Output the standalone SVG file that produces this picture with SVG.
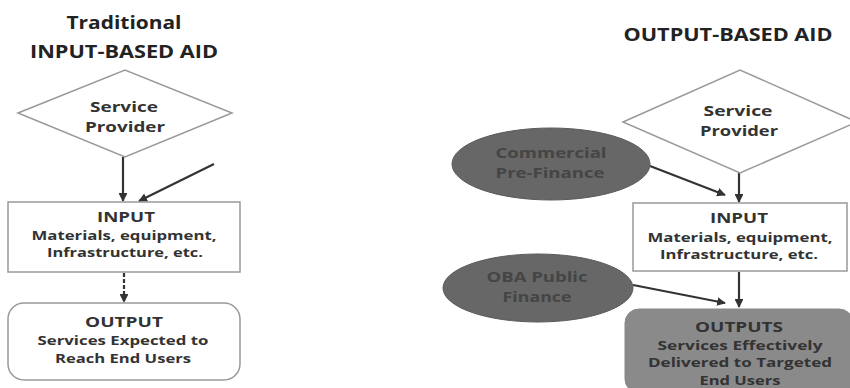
<svg xmlns="http://www.w3.org/2000/svg" width="850" height="388" viewBox="0 0 850 388">
<defs>
<style>
text{font-family:"Open Sans","Liberation Sans",sans-serif;font-weight:bold;text-anchor:middle;fill:#333}
.title{font-size:17px;fill:#222}
.big{font-size:15px}
.sm{font-size:13px}
.shape{fill:#fff;stroke:#999;stroke-width:1.5}
.ell{fill:#676767;stroke:#5a5a5a;stroke-width:1}
.dk{fill:#454545}
.conn{stroke:#333;stroke-width:2.2;fill:none}
</style>
<marker id="ah" viewBox="0 0 10 10" refX="9" refY="5" markerWidth="4" markerHeight="4" orient="auto" markerUnits="strokeWidth">
<path d="M0,0 L10,5 L0,10 z" fill="#333"/>
</marker>
</defs>
<rect width="850" height="388" fill="#fff"/>
<text class="title" x="124" y="29" textLength="115" lengthAdjust="spacingAndGlyphs">Traditional</text>
<text class="title" x="124" y="58" textLength="188" lengthAdjust="spacingAndGlyphs">INPUT-BASED AID</text>
<text class="title" x="728" y="41" textLength="209" lengthAdjust="spacingAndGlyphs">OUTPUT-BASED AID</text>

<g id="connectors">
<line class="conn" x1="123" y1="157" x2="123" y2="201" marker-end="url(#ah)"/>
<line class="conn" x1="214" y1="164" x2="139" y2="201" marker-end="url(#ah)"/>
<line class="conn" x1="124" y1="273" x2="124" y2="302" stroke-dasharray="4,2" marker-end="url(#ah)"/>
<line class="conn" x1="739" y1="173" x2="739" y2="202" marker-end="url(#ah)"/>
<line class="conn" x1="650" y1="166" x2="725" y2="195" marker-end="url(#ah)"/>
<line class="conn" x1="739" y1="272" x2="739" y2="307" marker-end="url(#ah)"/>
<line class="conn" x1="633" y1="285" x2="725" y2="303" marker-end="url(#ah)"/>
</g>

<g id="l-provider">
<polygon class="shape" points="18,113 125,70 232,113 125,157"/>
<text class="big" x="124" y="112" textLength="68" lengthAdjust="spacingAndGlyphs">Service</text>
<text class="big" x="125" y="132" textLength="80" lengthAdjust="spacingAndGlyphs">Provider</text>
</g>
<g id="l-input">
<rect class="shape" x="8" y="202" width="232" height="70"/>
<text class="big" x="126" y="222" textLength="58" lengthAdjust="spacingAndGlyphs">INPUT</text>
<text class="sm" x="124" y="240" textLength="185" lengthAdjust="spacingAndGlyphs">Materials, equipment,</text>
<text class="sm" x="125" y="257" textLength="156" lengthAdjust="spacingAndGlyphs">Infrastructure, etc.</text>
</g>
<g id="l-output">
<rect class="shape" x="8" y="303" width="232" height="77" rx="16"/>
<text class="big" x="124" y="327" textLength="78" lengthAdjust="spacingAndGlyphs">OUTPUT</text>
<text class="sm" x="123" y="345" textLength="171" lengthAdjust="spacingAndGlyphs">Services Expected to</text>
<text class="sm" x="123" y="363" textLength="136" lengthAdjust="spacingAndGlyphs">Reach End Users</text>
</g>

<g id="r-provider">
<polygon class="shape" points="623,122 740,70 857,122 740,173"/>
<text class="big" x="738" y="116" textLength="69" lengthAdjust="spacingAndGlyphs">Service</text>
<text class="big" x="739" y="136" textLength="78" lengthAdjust="spacingAndGlyphs">Provider</text>
</g>
<g id="r-commercial">
<ellipse class="ell" cx="551" cy="164" rx="99" ry="36"/>
<text class="big dk" x="551" y="158" textLength="111" lengthAdjust="spacingAndGlyphs">Commercial</text>
<text class="big dk" x="550" y="178" textLength="109" lengthAdjust="spacingAndGlyphs">Pre-Finance</text>
</g>
<g id="r-input">
<rect class="shape" x="633" y="203" width="214" height="68"/>
<text class="big" x="739" y="223" textLength="58" lengthAdjust="spacingAndGlyphs">INPUT</text>
<text class="sm" x="740" y="242" textLength="185" lengthAdjust="spacingAndGlyphs">Materials, equipment,</text>
<text class="sm" x="739" y="259" textLength="158" lengthAdjust="spacingAndGlyphs">Infrastructure, etc.</text>
</g>
<g id="r-oba">
<ellipse class="ell" cx="538" cy="288" rx="95" ry="34"/>
<text class="big dk" x="537" y="282" textLength="101" lengthAdjust="spacingAndGlyphs">OBA Public</text>
<text class="big dk" x="537" y="302" textLength="69" lengthAdjust="spacingAndGlyphs">Finance</text>
</g>
<g id="r-outputs">
<rect x="625" y="309" width="228" height="84" rx="14" fill="#8a8a8a" stroke="#888"/>
<text class="big" x="739" y="332" textLength="88" lengthAdjust="spacingAndGlyphs">OUTPUTS</text>
<text class="sm" x="740" y="350" textLength="165" lengthAdjust="spacingAndGlyphs">Services  Effectively</text>
<text class="sm" x="740" y="367" textLength="184" lengthAdjust="spacingAndGlyphs">Delivered to  Targeted</text>
<text class="sm" x="740" y="385" textLength="81" lengthAdjust="spacingAndGlyphs">End Users</text>
</g>
</svg>
